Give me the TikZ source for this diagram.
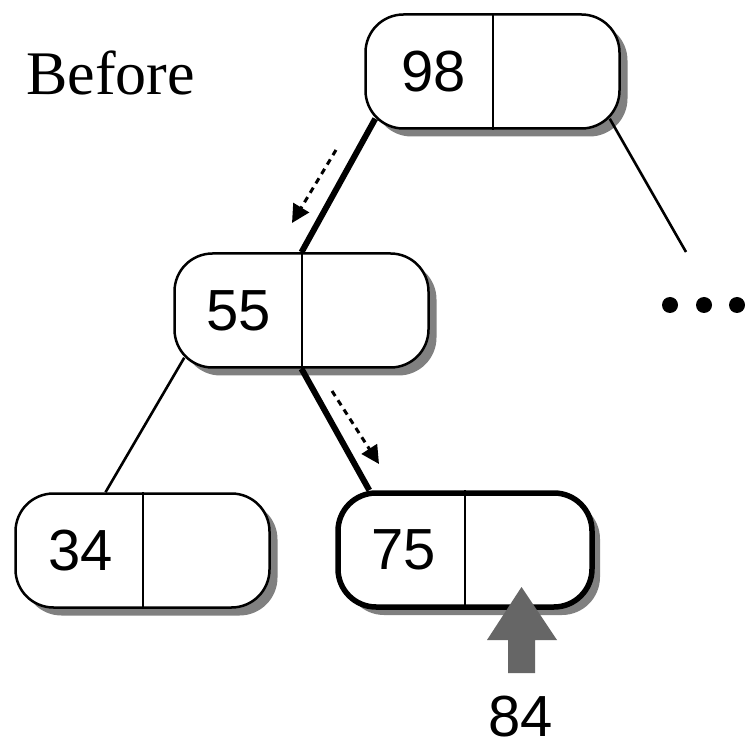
\documentclass[tikz,border=0pt]{standalone}
\usepackage{fontspec}
\setmainfont{Liberation Sans}
\newfontfamily\seriffam{Liberation Serif}
\usetikzlibrary{shadows,arrows.meta,calc}
\definecolor{shadowgray}{HTML}{808080}
\definecolor{arrowgray}{HTML}{666666}
\begin{document}
\begin{tikzpicture}[x=1pt,y=-1pt,
  keybox/.style={draw, line width=2.5pt, rounded corners=38pt, minimum width=254pt,
    minimum height=114pt, fill=white, inner sep=0pt,
    drop shadow={shadow xshift=8pt, shadow yshift=-8pt, fill=shadowgray, opacity=1}},
  hotbox/.style={keybox, line width=5.5pt},
  keytext/.style={font=\fontsize{58pt}{60pt}\selectfont, inner sep=0pt},
  thinedge/.style={line width=2.6pt},
  thickedge/.style={line width=6pt},
  divider/.style={line width=2pt},
  walk/.style={line width=3pt, dash pattern=on 6pt off 5pt, -{Triangle[length=18pt,width=18pt]}},
  dot/.style={circle, fill=black, inner sep=0pt, minimum size=16pt}]
\useasboundingbox (0,0) rectangle (745,743);
\fill[white] (0,0) rectangle (745,743);

% boxes
\node[keybox] (n98) at (492.5,71.5) {};
\node[keybox] (n55) at (301.5,310.5) {};
\node[keybox] (n34) at (142.5,550.5) {};
\node[hotbox] (n75) at (465,550) {};

% dividers
\foreach \n in {n98,n55,n34,n75} \draw[divider] (\n.north) -- (\n.south);

% keys
\node[keytext] (t98) at ($(n98.center)+(-59,0)$) {98};
\node[keytext] (t55) at ($(n55.center)+(-63,0)$) {55};
\node[keytext] (t34) at ($(n34.center)+(-62,0)$) {34};
\node[keytext] (t75) at ($(n75.center)+(-61,0)$) {75};

% edges
\coordinate (r98) at (686,252);
\draw[thickedge] ($(n98.south west)+(11,-11)$) -- (n55.north);
\draw[thinedge] ($(n98.south east)+(-11,-11)$) -- (r98);
\draw[thinedge] ($(n55.south west)+(11,-11)$) -- ($(n34.north)+(-37,0)$);
\draw[thickedge] (n55.south) -- ($(n75.north west)+(34,0)$);

% traversal arrows
\coordinate (w1s) at (336,150);
\coordinate (w1e) at (292,223);
\coordinate (w2s) at (332,391);
\coordinate (w2e) at (379,464);
\draw[walk] (w1s) -- (w1e);
\draw[walk] (w2s) -- (w2e);

% ellipsis
\node[dot] (d1) at (670,305) {};
\node[dot] (d2) at (704,305) {};
\node[dot] (d3) at (737,305) {};

% insertion arrow
\node[keytext] (n84) at (521,717) {84};
\fill[arrowgray] (508,673) -- (508,640) -- (487,640) -- (521.5,587) -- (557,640) -- (535,640) -- (535,673) -- cycle;

% title
\node[font=\seriffam\fontsize{62pt}{64pt}\selectfont, anchor=base west, inner sep=0pt] (title) at (26,95) {Before};
\end{tikzpicture}
\end{document}
